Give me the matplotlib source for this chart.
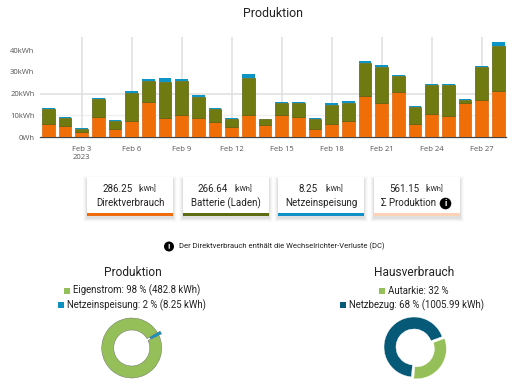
import matplotlib
matplotlib.use('Agg')
import matplotlib.pyplot as plt
import numpy as np
from matplotlib.patches import Rectangle, Circle

days = list(range(1, 29))
direkt = [6.1, 5.2, 2.6, 9.3, 3.8, 7.6, 16.2, 9.0, 10.1, 9.0, 7.0, 4.9, 10.2, 5.6,
          10.2, 9.3, 3.8, 6.1, 7.6, 19.1, 15.6, 20.8, 6.3, 10.7, 9.8, 15.7, 16.9, 21.4]
batterie = [6.7, 3.7, 1.2, 8.3, 3.5, 12.7, 9.8, 16.5, 15.9, 9.6, 5.8, 3.3, 17.0, 2.6,
            5.5, 6.4, 4.4, 8.9, 8.3, 15.1, 16.8, 7.3, 7.4, 13.1, 14.0, 1.4, 15.5, 20.6]
netz = [0.5, 0.3, 0.5, 0.4, 0.5, 0.9, 0.6, 1.7, 0.6, 0.8, 0.5, 0.5, 1.8, 0.2,
        0.3, 0.3, 0.5, 0.6, 0.7, 0.6, 0.7, 0.3, 0.5, 0.5, 0.5, 0.3, 0.4, 1.7]
tick_days = [3, 6, 9, 12, 15, 18, 21, 24, 27]
tick_labels = ['Feb 3\n2023', 'Feb 6', 'Feb 9', 'Feb 12', 'Feb 15', 'Feb 18', 'Feb 21', 'Feb 24', 'Feb 27']
y_ticks = [0, 10, 20, 30, 40]

card_values = ['286.25', '266.64', '8.25', '561.15']
card_names = ['Direktverbrauch', 'Batterie (Laden)', 'Netzeinspeisung', 'Σ Produktion']
card_colors = ['#ee6c0c', '#5f6b12', '#1090c4', '#fdd3b8']

prod_values = [482.8, 8.25]
haus_values = [32, 68]

plt.rcParams['font.family'] = ['Roboto', 'DejaVu Sans']
W, H = 520, 385
fig = plt.figure(figsize=(W / 100, H / 100), dpi=100, facecolor='white')

# main stacked bars, axes box placed in pixels
ax = fig.add_axes([40 / W, 1 - 137.3 / H, 466 / W, 100.3 / H])
direkt = np.array(direkt)
batterie = np.array(batterie)
netz = np.array(netz)
ax.bar(days, direkt, 0.77, color='#f06e08', edgecolor='#d8640c', linewidth=0.5, zorder=3)
ax.bar(days, batterie, 0.77, bottom=direkt, color='#6f7a10', edgecolor='#55600f', linewidth=0.5, zorder=3)
ax.bar(days, netz, 0.77, bottom=direkt + batterie, color='#0d95c6', linewidth=0, zorder=3)
ax.set_xlim(0.5, 28.46)
ax.set_ylim(0, 46)
ax.set_xticks(tick_days)
ax.set_xticklabels(tick_labels, fontsize=5.5, color='#555555', linespacing=1.25, family='Open Sans')
ax.set_yticks(y_ticks)
ax.set_yticklabels([str(v) + ('kWh' if v else 'Wh') for v in y_ticks], fontsize=5.5, color='#555555', family='Open Sans')
ax.tick_params(axis='x', length=0, pad=6)
ax.tick_params(axis='y', length=0, pad=4)
ax.grid(True, axis='x', color='#e2e2e2', linewidth=1.2, zorder=0)
ax.axhline(10, color='#f0f0f0', linewidth=1, zorder=0)
ax.axhline(20, color='#e6e6e6', linewidth=1.4, zorder=0)
for side in ['top', 'right', 'left']:
    ax.spines[side].set_visible(False)
ax.spines['bottom'].set_color('#444444')
ax.spines['bottom'].set_linewidth(0.9)
ax.set_axisbelow(True)

# overlay in pixel coordinates for cards and texts
ov = fig.add_axes([0, 0, 1, 1], zorder=5)
ov.set_xlim(0, W)
ov.set_ylim(H, 0)
ov.axis('off')
ov.patch.set_alpha(0)

ov.text(273.5, 13.5, 'Produktion', fontsize=8.9, ha='center', va='center', color='#222222')

card_left = [87, 182.5, 278, 374]
unit_offset = [51.7, 51.7, 47, 51.7]
name_offset = [43, 43, 43, 34.4]
for i in range(4):
    x = card_left[i]
    for grow, alpha in [(4, 0.015), (3, 0.025), (2, 0.035), (1, 0.05)]:
        ov.add_patch(Rectangle((x - grow, 180 - grow), 86 + 2 * grow, 38 + 2 * grow,
                               facecolor='black', edgecolor='none', alpha=alpha))
    ov.add_patch(Rectangle((x, 177), 86, 39, facecolor='white', edgecolor='none'))
    ov.add_patch(Rectangle((x, 213), 86, 3, facecolor=card_colors[i], edgecolor='none'))
    ov.text(x + 30.5, 188.5, card_values[i], fontsize=7.0, ha='center', va='center', color='#222222')
    ov.text(x + unit_offset[i], 189, '[kWh]', fontsize=5.2, ha='left', va='center', color='#222222')
    ov.text(x + name_offset[i], 203.5, card_names[i], fontsize=7.0, ha='center', va='center', color='#222222')

ov.add_patch(Circle((445.5, 203.5), 5.8, facecolor='black', edgecolor='none'))
ov.text(445.5, 203.5, 'i', fontsize=6.5, fontweight='bold', color='white', ha='center', va='center')
ov.add_patch(Circle((169, 246.5), 5, facecolor='black', edgecolor='none'))
ov.text(169, 246.5, '!', fontsize=6, fontweight='bold', color='white', ha='center', va='center')
ov.text(179, 246.5, 'Der Direktverbrauch enthält die Wechselrichter-Verluste (DC)', fontsize=5.5,
        ha='left', va='center', color='#222222')

ov.text(133, 272.7, 'Produktion', fontsize=8.6, ha='center', va='center', color='#222222')
ov.text(414, 272.7, 'Hausverbrauch', fontsize=8.6, ha='center', va='center', color='#222222')

legend_rows = [
    (66.7, 290.7, '#95bf58', 'Eigenstrom: 98 % (482.8 kWh)'),
    (60.7, 305, '#0d8fc0', 'Netzeinspeisung: 2 % (8.25 kWh)'),
    (381.7, 290.7, '#95bf58', 'Autarkie: 32 %'),
    (343, 305, '#065a78', 'Netzbezug: 68 % (1005.99 kWh)'),
]
for lx, ly, lc, lt in legend_rows:
    ov.add_patch(Rectangle((lx - 3, ly - 3), 6, 6, facecolor=lc, edgecolor='none'))
    ov.text(lx + 6, ly, lt, fontsize=6.95, ha='left', va='center', color='#222222')

# donuts
def donut(cx, cy, values, colors, start, explode, edge):
    size = 80
    pa = fig.add_axes([(cx - size / 2) / W, 1 - (cy + size / 2) / H, size / W, size / H], zorder=6)
    pa.pie(values, colors=colors, startangle=start, radius=30, explode=explode,
           wedgeprops={'width': 12, 'edgecolor': edge, 'linewidth': 0.3})
    pa.set_xlim(-40, 40)
    pa.set_ylim(-40, 40)
    pa.set_aspect('equal')
    pa.axis('off')

donut(131.7, 348, prod_values, ['#95bf58', '#0d95c6'], 31, [0, 3], '#666666')
donut(414, 347, haus_values, ['#95bf58', '#065a78'], -95, [3, 0], 'white')

plt.savefig('out.png', dpi=100)
plt.close()
